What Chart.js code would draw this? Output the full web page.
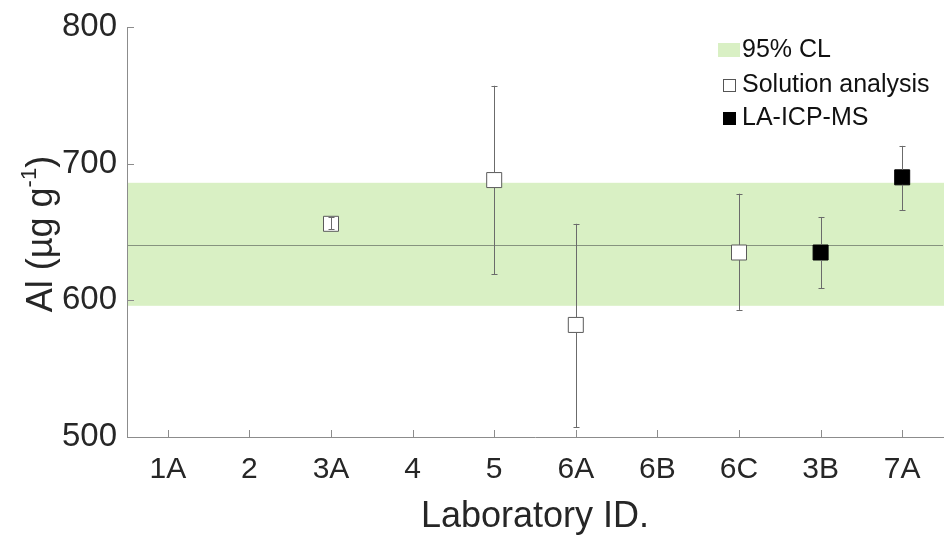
<!DOCTYPE html>
<html>
<head>
<meta charset="utf-8">
<script src="https://cdn.jsdelivr.net/npm/chart.js@4"></script>
<style>
  html, body { margin: 0; padding: 0; background: #fff; }
  #wrap { width: 944px; height: 535px; }
</style>
</head>
<body>
<div id="wrap"><canvas id="alChart" width="944" height="535"></canvas></div>
<script>
// Data
const labIds = ['1A', '2', '3A', '4', '5', '6A', '6B', '6C', '3B', '7A'];
const solutionValues = [null, null, 656, null, 688, 582, null, 635, null, null];
const solutionLow    = [null, null, 652, null, 619, 507, null, 593, null, null];
const solutionHigh   = [null, null, 661, null, 757, 656, null, 678, null, null];
const laValues = [null, null, null, null, null, null, null, null, 635, 690];
const laLow    = [null, null, null, null, null, null, null, null, 609, 666];
const laHigh   = [null, null, null, null, null, null, null, null, 661, 713];
const yTicks = [500, 600, 700, 800];
const meanValue = 640.5;
const clLow = 596;
const clHigh = 686;
const legendLabels = ['95% CL', 'Solution analysis', 'LA-ICP-MS'];

const FONT = "'Liberation Sans', Arial, Helvetica, sans-serif";
const TEXT = '#262626';
const AXIS = '#8c8c8c';
const BAND = '#d9f0c4';
const MARKER_SIDE = 15;

// Green confidence band and mean line under the points
const bandPlugin = {
    id: 'band',
    beforeDatasetsDraw(chart) {
        const { ctx, chartArea, scales } = chart;
        const y = scales.y;
        ctx.save();
        ctx.fillStyle = BAND;
        const top = y.getPixelForValue(clHigh);
        const bottom = y.getPixelForValue(clLow);
        ctx.fillRect(chartArea.left + 1, top, chartArea.right - chartArea.left, bottom - top);
        ctx.strokeStyle = '#86937f';
        ctx.lineWidth = 1;
        const ym = Math.round(y.getPixelForValue(meanValue)) + 0.5;
        ctx.beginPath();
        ctx.moveTo(chartArea.left, ym);
        ctx.lineTo(chartArea.right, ym);
        ctx.stroke();
        ctx.restore();
    }
};

// Error bars, leaving the inside of each marker clear
function drawErrors(chart, lows, highs, values) {
    const { ctx, scales } = chart;
    const half = MARKER_SIDE / 2;
    ctx.save();
    ctx.strokeStyle = '#6b6b6b';
    ctx.lineWidth = 1;
    values.forEach((v, i) => {
        if (v === null) return;
        const x = Math.round(scales.x.getPixelForValue(i)) + 0.5;
        const yc = scales.y.getPixelForValue(v);
        const yh = scales.y.getPixelForValue(highs[i]);
        const yl = scales.y.getPixelForValue(lows[i]);
        ctx.beginPath();
        if (yh < yc - half) {
            ctx.moveTo(x, yh); ctx.lineTo(x, yc - half);
        }
        if (yl > yc + half) {
            ctx.moveTo(x, yc + half); ctx.lineTo(x, yl);
        }
        if (yh >= yc - half && yl <= yc + half) {
            ctx.moveTo(x, yh); ctx.lineTo(x, yl);
        }
        ctx.moveTo(x - 3, Math.round(yh) + 0.5); ctx.lineTo(x + 3, Math.round(yh) + 0.5);
        ctx.moveTo(x - 3, Math.round(yl) + 0.5); ctx.lineTo(x + 3, Math.round(yl) + 0.5);
        ctx.stroke();
    });
    ctx.restore();
}

const errorPlugin = {
    id: 'errors',
    afterDatasetsDraw(chart) {
        drawErrors(chart, solutionLow, solutionHigh, solutionValues);
        drawErrors(chart, laLow, laHigh, laValues);
    }
};

// Inside tick marks, y title with superscript, legend
const decorPlugin = {
    id: 'decor',
    afterDraw(chart) {
        const { ctx, chartArea, scales } = chart;
        ctx.save();
        ctx.strokeStyle = AXIS;
        ctx.lineWidth = 1;
        ctx.beginPath();
        labIds.forEach((_, i) => {
            const x = Math.round(scales.x.getPixelForValue(i)) + 0.5;
            ctx.moveTo(x, chartArea.bottom);
            ctx.lineTo(x, chartArea.bottom - 7);
        });
        yTicks.forEach(v => {
            const y = Math.round(scales.y.getPixelForValue(v)) + 0.5;
            ctx.moveTo(chartArea.left, y);
            ctx.lineTo(chartArea.left + 7, y);
        });
        ctx.stroke();

        // y axis title
        ctx.translate(52, 234);
        ctx.rotate(-Math.PI / 2);
        ctx.fillStyle = TEXT;
        ctx.textBaseline = 'alphabetic';
        const main = 'Al (\u00b5g g';
        const sup = '-1';
        const tail = ')';
        ctx.font = '36px ' + FONT;
        const wMain = ctx.measureText(main).width;
        const wTail = ctx.measureText(tail).width;
        ctx.font = '22px ' + FONT;
        const wSup = ctx.measureText(sup).width;
        let x0 = -(wMain + wSup + wTail) / 2;
        ctx.font = '36px ' + FONT;
        ctx.fillText(main, x0, 0);
        ctx.font = '22px ' + FONT;
        ctx.fillText(sup, x0 + wMain, -16);
        ctx.font = '36px ' + FONT;
        ctx.fillText(tail, x0 + wMain + wSup, 0);
        ctx.restore();

        // legend
        ctx.save();
        ctx.font = '25px ' + FONT;
        ctx.textBaseline = 'middle';
        const rows = [50, 85, 118];
        ctx.fillStyle = BAND;
        ctx.fillRect(718, 43, 22, 14);
        ctx.fillStyle = '#fff';
        ctx.strokeStyle = '#555';
        ctx.fillRect(723, 79, 13, 13);
        ctx.strokeRect(723.5, 79.5, 12, 12);
        ctx.fillStyle = '#000';
        ctx.fillRect(723, 112, 13, 13);
        ctx.fillStyle = '#111';
        legendLabels.forEach((t, i) => ctx.fillText(t, 742, rows[i]));
        ctx.restore();
    }
};

new Chart(document.getElementById('alChart').getContext('2d'), {
    type: 'line',
    data: {
        labels: labIds,
        datasets: [{
            label: legendLabels[1],
            data: solutionValues,
            showLine: false,
            pointStyle: 'rect',
            pointRadius: MARKER_SIDE / 2 / Math.SQRT1_2,
            pointBorderWidth: 1,
            pointBorderColor: '#5a5a5a',
            pointBackgroundColor: '#ffffff'
        }, {
            label: legendLabels[2],
            data: laValues,
            showLine: false,
            pointStyle: 'rect',
            pointRadius: MARKER_SIDE / 2 / Math.SQRT1_2,
            pointBorderWidth: 1,
            pointBorderColor: '#000',
            pointBackgroundColor: '#000'
        }]
    },
    options: {
        responsive: false,
        animation: false,
        devicePixelRatio: 1,
        layout: { autoPadding: false, padding: { top: 27, right: 1, left: 0, bottom: 0 } },
        plugins: {
            legend: { display: false },
            tooltip: { enabled: false }
        },
        scales: {
            x: {
                offset: true,
                grid: { display: false },
                border: { display: true, color: AXIS, width: 1 },
                ticks: {
                    color: TEXT,
                    padding: 7,
                    maxRotation: 0,
                    font: { family: FONT, size: 30 }
                },
                title: {
                    display: true,
                    text: 'Laboratory ID.',
                    color: TEXT,
                    padding: { top: 0, bottom: 0 },
                    font: { family: FONT, size: 36, lineHeight: 1.0 }
                },
                afterFit(scale) {
                    scale.height = 98;
                    scale.paddingLeft = 0;
                    scale.paddingRight = 0;
                }
            },
            y: {
                min: 500,
                max: 800,
                grid: { display: false },
                border: { display: true, color: AXIS, width: 1 },
                ticks: {
                    stepSize: 100,
                    color: TEXT,
                    padding: 2,
                    font: { family: FONT, size: 33 }
                },
                afterFit(scale) { scale.width = 127; }
            }
        }
    },
    plugins: [bandPlugin, errorPlugin, decorPlugin]
});
</script>
</body>
</html>
